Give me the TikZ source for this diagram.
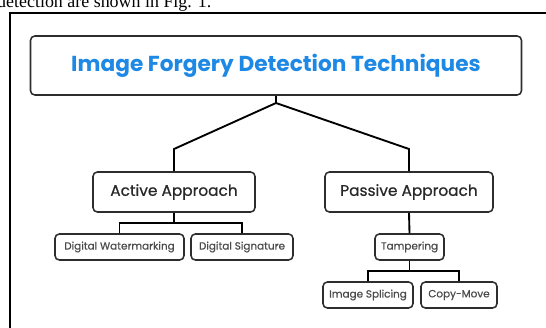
\documentclass[tikz,border=0pt]{standalone}
\usepackage{fontspec}
\setmainfont{Poppins}
\newfontfamily\bodyserif{Liberation Serif}
\newfontfamily\boxfont[FakeBold=0.7]{Poppins}
\usepackage{xcolor}
\usetikzlibrary{positioning,calc}

\definecolor{titleblue}{RGB}{30,136,229}
\definecolor{boxline}{RGB}{45,45,45}
\definecolor{boxtext}{RGB}{40,40,40}
\definecolor{leaftext}{RGB}{75,75,75}

\tikzset{
  rbox/.style={draw=boxline, line width=1.3pt, rounded corners=1.3mm, inner sep=0pt, align=center},
  mainbox/.style={rbox, minimum height=12mm, font=\boxfont\fontsize{13.1}{15}\selectfont, text=boxtext},
  leafbox/.style={rbox, minimum height=7.8mm, font=\boxfont\fontsize{8.9}{11}\selectfont, text=leaftext},
  link/.style={draw=black, line width=1.6pt}
}

\begin{document}
\begin{tikzpicture}[x=0.3mm, y=-0.3mm]
\useasboundingbox (0,0) rectangle (546,327);
\clip (0,0) rectangle (546,327);

% Running text above the figure frame
\node[anchor=base west, inner sep=0pt, font=\bodyserif\fontsize{15.3}{18}\selectfont] (caption) at (-3,7.5) {detection are shown in Fig. 1.};

% Figure frame
\draw[line width=1pt] (10,340) -- (10,13) -- (560,13);

% Root
\node[rbox, minimum width=147.3mm, minimum height=17.7mm, text=titleblue, font=\bfseries\fontsize{18.5}{22}\selectfont] (title) at (276,65.5) {Image Forgery Detection Techniques};

% Approaches
\node[mainbox, minimum width=48.6mm] (active) at (174,192) {Active Approach};
\node[mainbox, minimum width=50.4mm] (passive) at (409,192) {Passive Approach};

% Active leaves
\node[leafbox, minimum width=38.7mm] (watermark) at (119.5,247) {Digital Watermarking};
\node[leafbox, minimum width=30.6mm] (signature) at (242,247) {Digital Signature};

% Passive branch
\node[leafbox, minimum width=20.7mm] (tampering) at (409.5,247) {Tampering};
\node[leafbox, minimum width=27mm] (splicing) at (368,295) {Image Splicing};
\node[leafbox, minimum width=22.8mm] (copymove) at (459,295) {Copy-Move};

% Connectors
\coordinate (split) at (276,103);
\coordinate (abus) at (174,223);
\coordinate (tbus) at (409.5,271);

\draw[link] (title.south) -- (split);
\draw[link] (split) -- (active.north |- 0,149) -- (active.north);
\draw[link] (split) -- (passive.north |- 0,149) -- (passive.north);

\draw[link] (active.south) -- (abus);
\draw[link] (watermark.north) |- (abus) -| (signature.north);

\draw[link] (passive.south) -- (tampering.north);
\draw[link] (tampering.south) -- (tbus);
\draw[link] (splicing.north) |- (tbus) -| (copymove.north);
\end{tikzpicture}
\end{document}
